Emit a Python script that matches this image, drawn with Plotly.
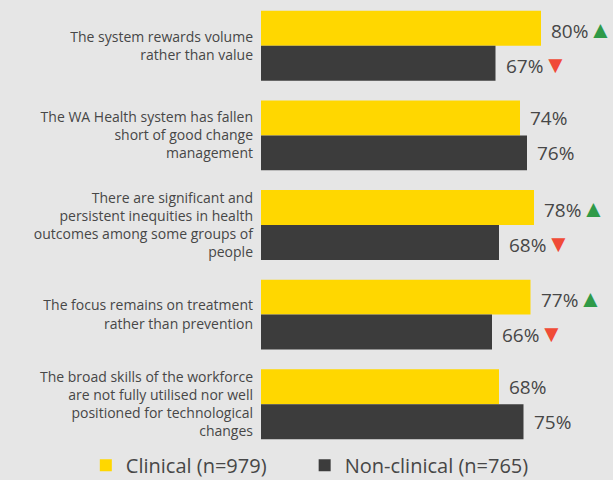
import plotly.graph_objects as go

statements = [
    "The system rewards volume<br>rather than value",
    "The WA Health system has fallen<br>short of good change<br>management",
    "There are significant and<br>persistent inequities in health<br>outcomes among some groups of<br>people",
    "The focus remains on treatment<br>rather than prevention",
    "The broad skills of the workforce<br>are not fully utilised nor well<br>positioned for technological<br>changes",
]
clinical = [80, 74, 78, 77, 68]
non_clinical = [67, 76, 68, 66, 75]
# significance markers: "up", "down" or ""
clinical_sig = ["up", "", "up", "up", ""]
non_clinical_sig = ["down", "", "down", "down", ""]

YELLOW = "#ffd700"
DARK = "#3c3c3c"
BG = "#e6e6e6"
TEXT = "#474747"
ARROWS = {
    "up": "<span style='color:#2f9a48;font-size:24px'>▲</span>",
    "down": "<span style='color:#f04b37;font-size:24px'>▼</span>",
    "": "",
}
FONT = "Open Sans, sans-serif"

pos = list(range(len(statements)))
fig = go.Figure()
fig.add_trace(go.Bar(
    y=pos, x=clinical, orientation="h", name="Clinical (n=979)",
    marker=dict(color=YELLOW, line=dict(width=0)), legend="legend",
))
fig.add_trace(go.Bar(
    y=pos, x=non_clinical, orientation="h", name="Non-clinical (n=765)",
    marker=dict(color=DARK, line=dict(width=0)), legend="legend2",
))

bargap = 0.22
half = (1 - bargap) / 4
for i in pos:
    for val, sig, off in ((clinical[i], clinical_sig[i], -half),
                          (non_clinical[i], non_clinical_sig[i], half)):
        fig.add_annotation(
            x=val, y=i + off, xref="x", yref="y",
            text=f"{val}%{ARROWS[sig]}", showarrow=False,
            xanchor="left", yanchor="middle", xshift=9, borderpad=0,
            font=dict(family=FONT, size=19, color=TEXT),
        )

legend_style = dict(
    orientation="h", xref="container", yref="paper",
    y=0.007, xanchor="left", yanchor="top",
    font=dict(size=20, color=TEXT), itemwidth=30,
    bgcolor="rgba(0,0,0,0)",
)
fig.update_layout(
    width=613, height=480,
    barmode="group", bargap=bargap,
    paper_bgcolor=BG, plot_bgcolor=BG,
    margin=dict(l=261, r=2, t=1, b=31, autoexpand=False),
    font=dict(family=FONT, color=TEXT),
    showlegend=True,
    legend=dict(x=0.14, **legend_style),
    legend2=dict(x=0.497, **legend_style),
)
fig.update_xaxes(range=[0, 100], visible=False)
fig.update_yaxes(
    range=[4.5, -0.5], tickvals=pos, ticktext=statements,
    showgrid=False, zeroline=False, ticks="", ticklabelstandoff=7,
    tickfont=dict(family=FONT, size=14, color=TEXT),
)

fig.write_html("out.html", config={"displayModeBar": False},
               post_script="document.body.style.margin='0';")
